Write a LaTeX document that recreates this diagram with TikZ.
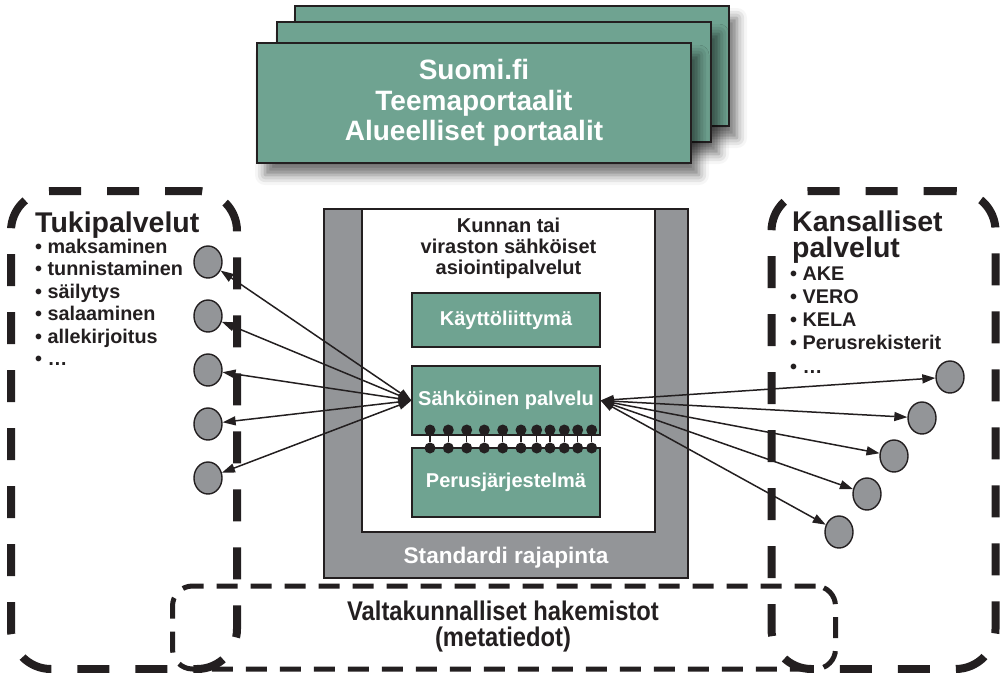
\documentclass[tikz,border=0pt]{standalone}
\usepackage{fontspec}
\setmainfont{Liberation Sans}
\newfontfamily\narrowfont[FakeStretch=0.88]{Liberation Sans}
\usetikzlibrary{arrows.meta,shapes.geometric,shadows.blur}
\definecolor{ink}{HTML}{231F20}
\definecolor{portalgreen}{HTML}{6FA391}
\definecolor{midgray}{HTML}{939598}
\begin{document}
\begin{tikzpicture}[x=1pt,y=-1pt,
  portal/.style={draw=ink, line width=1.6, fill=portalgreen, minimum width=434, minimum height=120, inner sep=0,
    blur shadow={shadow xshift=8pt, shadow yshift=-12pt, shadow blur radius=10pt, shadow opacity=55}},
  greenbox/.style={draw=ink, line width=1.2, fill=portalgreen, minimum width=188, inner sep=0, text=white,
    font=\bfseries\fontsize{20}{22}\selectfont},
  port/.style={ellipse, draw=ink, line width=1.4, fill=midgray, minimum width=28, minimum height=32, inner sep=0},
  link/.style={line width=1.5, draw=ink, {Triangle[length=13pt,width=9pt]}-{Triangle[length=13pt,width=9pt]}},
  region/.style={draw=ink, line width=8, dash pattern=on 32pt off 26pt, rounded corners=40, inner sep=0},
  subregion/.style={draw=ink, line width=5, dash pattern=on 21pt off 13pt, rounded corners=20, inner sep=0},
  head/.style={text=ink, inner sep=0, anchor=base west, font=\bfseries\fontsize{28.5}{30}\selectfont},
  item/.style={text=ink, inner sep=0, anchor=base west, font=\bfseries\fontsize{19.8}{22}\selectfont},
  ctext/.style={text=ink, inner sep=0, anchor=base, font=\bfseries\fontsize{20}{22}\selectfont},
  dot/.style={circle, fill=ink, minimum size=11, inner sep=0},
]
\useasboundingbox (0,0) rectangle (1003,672);

% dashed regions
\node[region, minimum width=226, minimum height=478] (tuki) at (124,430) {};
\node[region, minimum width=224, minimum height=478] (kans) at (883.5,430) {};
\node[subregion, minimum width=663, minimum height=83] (hak) at (504,627.5) {};

% portals
\node[portal] (p3) at (512,66) {};
\node[portal] (p2) at (494,82) {};
\node[portal, align=center, text=white, font=\bfseries\fontsize{28}{30.5}\selectfont] (p1) at (474,103)
  {Suomi.fi\\Teemaportaalit\\Alueelliset portaalit};

% central service block
\node[draw=ink, line width=1.2, fill=midgray, minimum width=364, minimum height=369, inner sep=0] (frame) at (506,393.5) {};
\node[draw=ink, line width=1.2, fill=white, minimum width=293, minimum height=323, inner sep=0] (inner) at (508.5,370.5) {};
\node[ctext] (k1) at (508.5,232) {Kunnan tai};
\node[ctext] (k2) at (508.5,253) {viraston sähköiset};
\node[ctext] (k3) at (508.5,274) {asiointipalvelut};
\node[greenbox, minimum height=54] (ui) at (506,320) {Käyttöliittymä};
\node[greenbox, minimum height=69] (sp) at (506,400.5) {Sähköinen palvelu};
\node[greenbox, minimum height=69] (pj) at (506,482.5) {Perusjärjestelmä};
\node[ctext, text=white, font=\bfseries\fontsize{22.6}{24}\selectfont] (std) at (506,563) {Standardi rajapinta};

% connectors between service and base system
\foreach \x [count=\i] in {430,448.3,466.7,484.3,502.7,521,536.7,550,564.3,577.7,591.7} {
  \node[dot] (dt\i) at (\x,430) {};
  \node[dot] (db\i) at (\x,448) {};
  \draw[line width=1.3, ink] (dt\i) -- (db\i);
}

% left texts
\node[head] (tukih) at (35,232) {Tukipalvelut};
\foreach \t [count=\i] in {maksaminen,tunnistaminen,säilytys,salaaminen,allekirjoitus,…}
  \node[item] (tk\i) at (35,{253+22.5*(\i-1)}) {• \t};

% right texts
\node[head] (kansh1) at (792,231) {Kansalliset};
\node[head] (kansh2) at (792,257) {palvelut};
\foreach \t [count=\i] in {AKE,VERO,KELA,Perusrekisterit,…}
  \node[item] (ks\i) at (790,{280+23.3*(\i-1)}) {• \t};

% bottom text
\node[text=ink, inner sep=0, anchor=base, font=\narrowfont\bfseries\fontsize{27}{29}\selectfont] (hak1) at (503,620) {Valtakunnalliset hakemistot};
\node[text=ink, inner sep=0, anchor=base, font=\narrowfont\bfseries\fontsize{27}{29}\selectfont] (hak2) at (503,646) {(metatiedot)};

% left ports
\foreach \y [count=\i] in {262,316,370,424,478}
  \node[port] (L\i) at (208,\y) {};
% right ports
\foreach \x/\y [count=\i] in {950/377,922/418,894/456,867/494,839/532}
  \node[port] (R\i) at (\x,\y) {};

\foreach \i in {1,...,5} \draw[link] (sp.west) -- (L\i);
\foreach \i in {1,...,5} \draw[link] (sp.east) -- (R\i);
\end{tikzpicture}
\end{document}
